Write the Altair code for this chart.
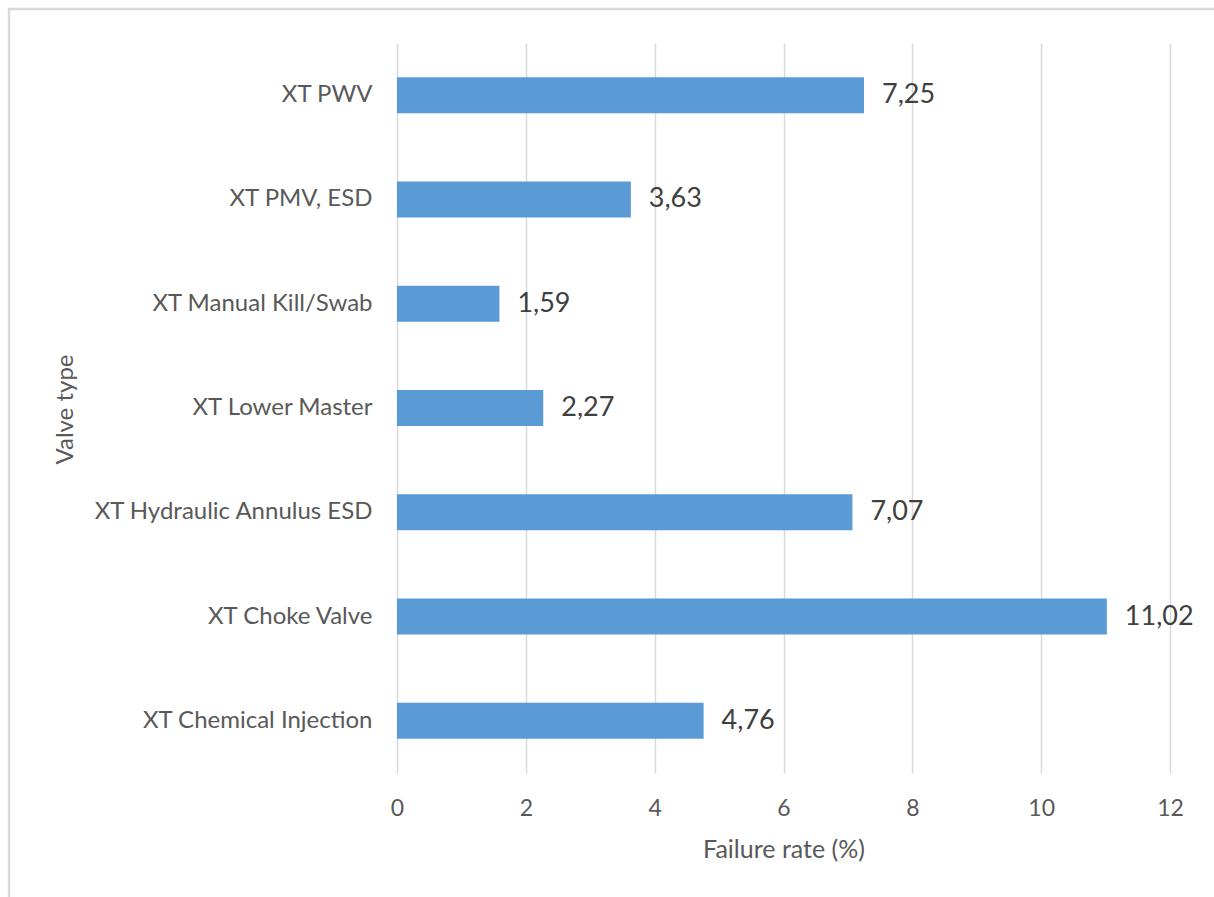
import altair as alt
import pandas as pd

categories = [
    "XT PWV",
    "XT PMV, ESD",
    "XT Manual Kill/Swab",
    "XT Lower Master",
    "XT Hydraulic Annulus ESD\u00a0",
    "XT Choke Valve",
    "XT Chemical Injection",
]
values = [7.25, 3.63, 1.59, 2.27, 7.07, 11.02, 4.76]
x_ticks = [0, 2, 4, 6, 8, 10, 12]

df = pd.DataFrame({"cat": categories, "val": values})

FONT = "Lato"
AX = "#595959"

base = alt.Chart(df).transform_calculate(
    lab="replace(format(datum.val, '.2f'), '.', ',')"
)

y_enc = alt.Y(
    "cat:N",
    sort=categories,
    scale=alt.Scale(paddingInner=0, paddingOuter=0),
    axis=alt.Axis(
        title="Valve type",
        titleFont=FONT,
        titleFontSize=24,
        titleFontWeight="normal",
        titleColor=AX,
        titleX=-332,
        titleY=366,
        titleAngle=270,
        titleAlign="center",
        titleBaseline="middle",
        labelFont=FONT,
        labelFontSize=24,
        labelColor=AX,
        labelPadding=25,
        labelLimit=600,
        ticks=False,
        domain=False,
        grid=False,
    ),
)

bars = base.mark_bar(size=36, color="#5B9BD5").encode(
    x=alt.X(
        "val:Q",
        scale=alt.Scale(domain=[0, 12], nice=False),
        axis=alt.Axis(
            values=x_ticks,
            format="d",
            title="Failure rate (%)",
            titleFont=FONT,
            titleFontSize=25,
            titleFontWeight="normal",
            titleColor=AX,
            titlePadding=17,
            labelFont=FONT,
            labelFontSize=23,
            labelColor=AX,
            labelPadding=24,
            labelFlush=False,
            labelOverlap=False,
            ticks=False,
            domain=False,
            grid=True,
            gridColor="#d9d9d9",
            gridWidth=1.5,
        ),
    ),
    y=y_enc,
)

text = base.mark_text(
    align="left", baseline="middle", dx=18, fontSize=27, font=FONT, color="#404040"
).encode(
    x="val:Q",
    y=alt.Y("cat:N", sort=categories),
    text="lab:N",
)

border = alt.Chart(df).mark_rect(
    fill=None, stroke="#d9d9d9", strokeWidth=2.5
).encode(
    x=alt.value(-388), x2=alt.value(840), y=alt.value(-34), y2=alt.value(900)
).transform_filter("datum.val == 7.25")

chart = (
    alt.layer(border, bars, text)
    .properties(
        width=773,
        height=730,
        autosize=alt.AutoSizeParams(type="none"),
        padding={"left": 397, "top": 43, "right": 44, "bottom": 124},
        view=alt.ViewBackground(strokeOpacity=0, strokeWidth=0),
    )
    .configure_view(strokeWidth=0, strokeOpacity=0)
    .configure(background="white")
)

chart.save("out.html", embed_options={"renderer": "svg", "actions": False})
